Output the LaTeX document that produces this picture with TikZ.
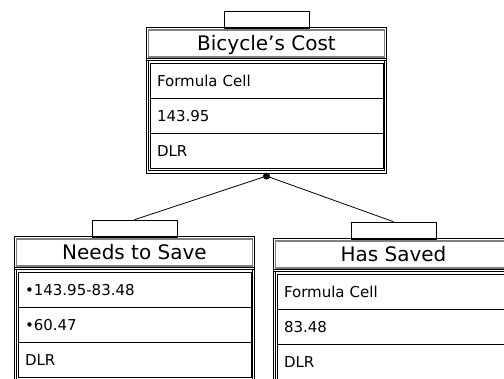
\documentclass[tikz,border=0pt]{standalone}
\usepackage{fontspec}
\setmainfont{DejaVu Sans}
\usetikzlibrary{positioning}
\tikzset{
  panel/.style={draw, line width=0.9pt, double=white, double distance=1.4pt,
    minimum width=238pt, minimum height=143pt, inner sep=0pt},
  tabbox/.style={draw, line width=0.8pt, minimum width=85pt,
    minimum height=17pt, inner sep=0pt},
  titlebar/.style={draw=gray, line width=1.2pt, minimum width=236pt,
    minimum height=27pt, inner sep=0pt, font=\fontsize{20}{24}\selectfont,
    text height=14.5pt, text depth=0pt},
  cellbox/.style={draw, line width=1pt, text width=219pt, inner xsep=7pt,
    inner ysep=0pt, outer sep=0pt, minimum height=35pt, align=left,
    font=\fontsize{15}{18}\selectfont, text height=11pt, text depth=0pt},
  sepline/.style={line width=0.8pt, double=white, double distance=1.2pt},
  junction/.style={circle, fill, inner sep=0pt, minimum size=7pt},
}
\begin{document}
\begin{tikzpicture}[x=1pt, y=1pt]
  \useasboundingbox (0,0) rectangle (504,379);
  \clip (0,0) rectangle (504,379);

  % top panel
  \node[panel, anchor=north] (costpanel) at (266.5,350.5) {};
  \node[tabbox, anchor=south] (costtab) at (costpanel.north) {};
  \node[titlebar, below=1pt of costpanel.north] (costtitle) {Bicycle’s Cost};
  \coordinate[below=2pt of costtitle.south] (costsep);
  \draw[sepline] (costsep -| costpanel.west) -- (costsep -| costpanel.east);
  \node[cellbox, below=6pt of costtitle] (costa) {Formula Cell};
  \node[cellbox, below=0pt of costa] (costb) {143.95};
  \node[cellbox, below=0pt of costb] (costc) {DLR};
  \node[junction, below=0pt of costpanel.south] (split) {};

  % left panel
  \node[panel, anchor=north] (needpanel) at (134.5,141.5) {};
  \node[tabbox, anchor=south] (needtab) at (needpanel.north) {};
  \node[titlebar, below=1pt of needpanel.north] (needtitle) {Needs to Save};
  \coordinate[below=2pt of needtitle.south] (needsep);
  \draw[sepline] (needsep -| needpanel.west) -- (needsep -| needpanel.east);
  \node[cellbox, below=6pt of needtitle] (needa) {•143.95-83.48};
  \node[cellbox, below=0pt of needa] (needb) {•60.47};
  \node[cellbox, below=0pt of needb] (needc) {DLR};

  % right panel
  \node[panel, anchor=north] (savedpanel) at (393.5,139.5) {};
  \node[tabbox, anchor=south] (savedtab) at (savedpanel.north) {};
  \node[titlebar, below=1pt of savedpanel.north] (savedtitle) {Has Saved};
  \coordinate[below=2pt of savedtitle.south] (savedsep);
  \draw[sepline] (savedsep -| savedpanel.west) -- (savedsep -| savedpanel.east);
  \node[cellbox, below=6pt of savedtitle] (saveda) {Formula Cell};
  \node[cellbox, below=0pt of saveda] (savedb) {83.48};
  \node[cellbox, below=0pt of savedb] (savedc) {DLR};

  \draw[line width=0.8pt] (split.center) -- (needtab.north);
  \draw[line width=0.8pt] (split.center) -- (savedtab.north);
\end{tikzpicture}
\end{document}
